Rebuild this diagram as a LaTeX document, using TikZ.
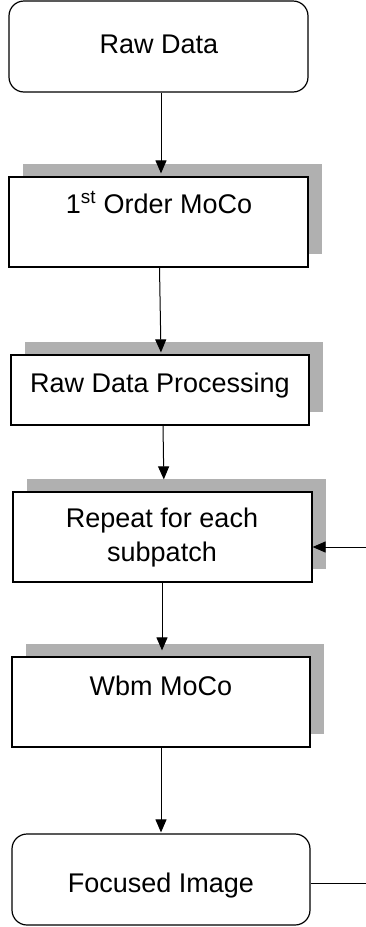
\documentclass[tikz,border=0pt]{standalone}
\usepackage{fontspec}
\setmainfont{Liberation Sans}
\usetikzlibrary{arrows.meta,shadows}
\begin{document}
\begin{tikzpicture}[x=1pt,y=-1pt,
  box/.style={draw=black,line width=1.2pt,fill=white,inner sep=0pt,minimum width=298pt},
  rbox/.style={box,rounded corners=15pt},
  sbox/.style={box,drop shadow={shadow xshift=14pt,shadow yshift=13pt,fill=gray!62,opacity=1}},
  txt/.style={anchor=base,inner sep=0pt,font=\fontsize{27}{33.7}\selectfont},
  arr/.style={line width=1pt,-{Triangle[length=13pt,width=11pt]}},
  ln/.style={line width=1pt}]
\useasboundingbox (0,0) rectangle (366,927);
% boxes
\node[rbox,minimum width=299pt,minimum height=91pt] (b1) at (158.5,46.5) {};
\node[sbox,minimum width=299pt,minimum height=90pt] (b2) at (158.5,222) {};
\node[sbox,minimum width=298pt,minimum height=70pt] (b3) at (160,390) {};
\node[sbox,minimum width=299pt,minimum height=90pt] (b4) at (162.5,537) {};
\node[sbox,minimum width=298pt,minimum height=90pt] (b5) at (161,702) {};
\node[rbox,minimum width=298pt,minimum height=91pt] (b6) at (161,879.5) {};
% texts
\node[txt] (t1) at (159,53) {Raw Data};
\node[txt] (t2) at (159,213) {1\textsuperscript{st} Order MoCo};
\node[txt] (t3) at (160,392) {Raw Data Processing};
\node[txt,align=center] (t4) at (162,561.5) {Repeat for each\\subpatch};
\node[txt] (t5) at (161,695) {Wbm MoCo};
\node[txt] (t6) at (161,892) {Focused Image};
% connectors
\draw[arr,shorten >=3pt] ([xshift=2.5pt]b1.south) -- ([xshift=2.5pt]b2.north);
\draw[arr,shorten >=2pt] ([xshift=1pt]b2.south) -- ([xshift=1pt]b3.north);
\draw[arr,shorten >=12pt] ([xshift=3pt]b3.south) -- ([xshift=1.5pt]b4.north);
\draw[arr,shorten >=6pt] ([xshift=-0.5pt]b4.south) -- ([xshift=1pt]b5.north);
\draw[arr,shorten >=1pt] (b5.south) -- (b6.north);
\coordinate (in4) at (366,547);
\coordinate (out6) at (366,883);
\draw[arr] (in4) -- (in4 -| b4.east);
\draw[ln] (b6.east |- out6) -- (out6);
\end{tikzpicture}
\end{document}
